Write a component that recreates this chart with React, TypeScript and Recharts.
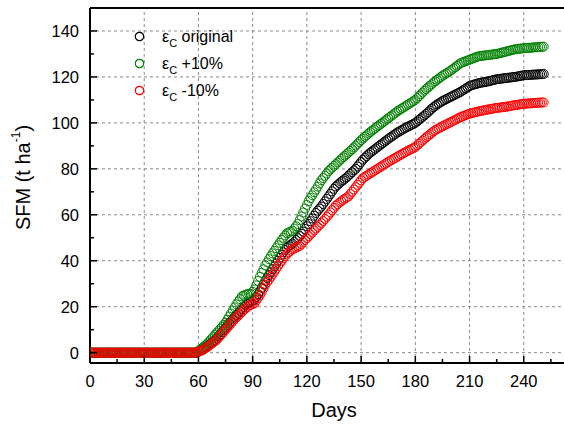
import React from 'react'
import { ScatterChart, Scatter, XAxis, YAxis, ReferenceLine, Legend, Label } from 'recharts'

const FONT = '"Liberation Sans", Arial, sans-serif'

// SFM (t ha-1) per day, day 0 .. 251
const original = [
  0, 0, 0, 0, 0, 0, 0, 0, 0, 0, 0, 0, 0, 0, 0, 0, 0, 0, 0, 0,
  0, 0, 0, 0, 0, 0, 0, 0, 0, 0, 0, 0, 0, 0, 0, 0, 0, 0, 0, 0,
  0, 0, 0, 0, 0, 0, 0, 0, 0, 0, 0, 0, 0, 0, 0, 0, 0, 0, 0, 0,
  0.5, 0.9, 1.3, 1.8, 2.3, 2.9, 3.5, 4.2, 4.8, 5.5, 6.2, 7.1, 8.0, 9.0, 9.9, 10.8, 11.8, 12.7, 13.6, 14.6,
  15.5, 16.4, 17.2, 18.1, 18.9, 19.8, 20.6, 21.2, 21.9, 22.2, 22.6, 23.0, 24.2, 25.4, 26.7, 28.2, 29.7, 31.2, 32.5, 33.8,
  35.0, 36.3, 37.5, 38.8, 40.0, 41.3, 42.6, 43.7, 44.7, 45.6, 46.3, 46.9, 47.5, 48.2, 49.0, 49.8, 50.7, 51.7, 52.7, 53.8,
  55.0, 56.0, 57.2, 58.4, 59.6, 60.8, 61.8, 62.7, 63.6, 64.7, 65.8, 66.9, 68.0, 69.1, 70.2, 71.3, 72.3, 73.0, 73.7, 74.4,
  75.0, 75.6, 76.3, 77.0, 77.8, 78.5, 79.3, 80.0, 81.0, 82.0, 83.0, 84.0, 84.8, 85.5, 86.3, 87.0, 87.6, 88.2, 88.8, 89.4,
  90.0, 90.6, 91.2, 91.8, 92.4, 93.0, 93.6, 94.1, 94.7, 95.2, 95.8, 96.2, 96.7, 97.1, 97.6, 98.0, 98.4, 98.8, 99.2, 99.6,
  100.0, 100.6, 101.3, 101.9, 102.6, 103.2, 103.9, 104.6, 105.4, 106.1, 106.8, 107.4, 108.0, 108.5, 109.0, 109.5, 109.9, 110.3, 110.7, 111.1,
  111.5, 111.9, 112.3, 112.7, 113.1, 113.5, 114.0, 114.5, 115.0, 115.5, 116.0, 116.3, 116.6, 116.8, 117.0, 117.3, 117.4, 117.6, 117.7, 117.9,
  118.0, 118.2, 118.4, 118.6, 118.8, 119.0, 119.1, 119.2, 119.3, 119.4, 119.5, 119.6, 119.7, 119.8, 119.9, 120.0, 120.1, 120.3, 120.4, 120.6,
  120.7, 120.8, 120.8, 120.9, 120.9, 121.0, 121.0, 121.1, 121.1, 121.2, 121.2, 121.3,
]

const plus10 = [
  0, 0, 0, 0, 0, 0, 0, 0, 0, 0, 0, 0, 0, 0, 0, 0, 0, 0, 0, 0,
  0, 0, 0, 0, 0, 0, 0, 0, 0, 0, 0, 0, 0, 0, 0, 0, 0, 0, 0, 0,
  0, 0, 0, 0, 0, 0, 0, 0, 0, 0, 0, 0, 0, 0, 0, 0, 0, 0, 0, 0,
  0.8, 1.4, 2.0, 2.7, 3.3, 4.0, 4.9, 5.8, 6.7, 7.6, 8.5, 9.4, 10.3, 11.2, 12.1, 13.0, 14.3, 15.7, 17.0, 18.3,
  19.7, 21.0, 22.2, 23.3, 24.5, 24.8, 25.2, 25.5, 25.5, 25.5, 26.5, 27.5, 29.3, 31.2, 33.0, 34.7, 36.3, 38.0, 39.3, 40.7,
  42.0, 43.2, 44.3, 45.5, 46.7, 47.8, 49.0, 50.0, 51.0, 52.0, 52.3, 52.7, 53.0, 54.0, 55.0, 56.0, 57.7, 59.3, 61.0, 62.7,
  64.3, 66.0, 67.3, 68.5, 69.8, 71.0, 72.3, 73.7, 75.0, 76.0, 77.0, 78.0, 79.0, 79.8, 80.5, 81.3, 82.0, 82.8, 83.5, 84.3,
  85.0, 85.7, 86.4, 87.1, 87.8, 88.5, 89.3, 90.1, 90.9, 91.7, 92.5, 93.2, 93.9, 94.6, 95.3, 96.0, 96.6, 97.2, 97.8, 98.4,
  99.0, 99.6, 100.2, 100.8, 101.4, 102.0, 102.6, 103.2, 103.8, 104.4, 105.0, 105.5, 106.0, 106.5, 107.0, 107.5, 108.0, 108.5, 109.0, 109.5,
  110.0, 110.8, 111.6, 112.4, 113.2, 114.0, 114.7, 115.4, 116.1, 116.8, 117.5, 118.1, 118.7, 119.3, 119.9, 120.5, 121.0, 121.5, 122.0, 122.5,
  123.0, 123.6, 124.2, 124.8, 125.4, 126.0, 126.3, 126.6, 126.9, 127.2, 127.5, 127.8, 128.1, 128.4, 128.7, 129.0, 129.1, 129.2, 129.3, 129.4,
  129.5, 129.6, 129.7, 129.8, 129.9, 130.0, 130.2, 130.4, 130.6, 130.8, 131.0, 131.2, 131.4, 131.6, 131.8, 132.0, 132.1, 132.2, 132.3, 132.4,
  132.5, 132.6, 132.6, 132.7, 132.7, 132.8, 132.9, 132.9, 133.0, 133.1, 133.1, 133.2,
]

const minus10 = [
  0, 0, 0, 0, 0, 0, 0, 0, 0, 0, 0, 0, 0, 0, 0, 0, 0, 0, 0, 0,
  0, 0, 0, 0, 0, 0, 0, 0, 0, 0, 0, 0, 0, 0, 0, 0, 0, 0, 0, 0,
  0, 0, 0, 0, 0, 0, 0, 0, 0, 0, 0, 0, 0, 0, 0, 0, 0, 0, 0, 0,
  0.4, 0.7, 1.0, 1.5, 2.0, 2.5, 3.1, 3.7, 4.3, 4.9, 5.5, 6.4, 7.3, 8.2, 9.1, 10.0, 10.9, 11.8, 12.7, 13.6,
  14.5, 15.3, 16.1, 16.9, 17.7, 18.5, 19.2, 19.8, 20.5, 20.8, 21.2, 21.5, 22.7, 23.8, 25.0, 26.5, 28.0, 29.5, 30.7, 31.8,
  33.0, 34.2, 35.3, 36.5, 37.7, 38.8, 40.0, 41.0, 42.0, 43.0, 43.7, 44.3, 45.0, 45.4, 45.8, 46.1, 46.5, 47.3, 48.2, 49.0,
  49.8, 50.7, 51.5, 52.3, 53.2, 54.0, 54.8, 55.6, 56.4, 57.3, 58.2, 59.1, 60.0, 61.0, 62.0, 63.0, 64.0, 64.6, 65.3, 65.9,
  66.5, 67.0, 67.5, 68.0, 69.0, 70.0, 71.0, 72.0, 73.0, 74.0, 75.0, 76.0, 76.5, 77.0, 77.5, 78.0, 78.5, 79.0, 79.5, 80.0,
  80.5, 81.0, 81.5, 82.0, 82.5, 83.0, 83.5, 83.9, 84.4, 84.8, 85.3, 85.7, 86.2, 86.6, 87.1, 87.5, 87.9, 88.3, 88.7, 89.1,
  89.5, 90.2, 90.9, 91.6, 92.3, 93.0, 93.7, 94.3, 95.0, 95.6, 96.3, 96.8, 97.3, 97.7, 98.1, 98.5, 98.9, 99.3, 99.7, 100.1,
  100.5, 100.9, 101.3, 101.7, 102.1, 102.5, 102.8, 103.1, 103.4, 103.7, 104.0, 104.2, 104.4, 104.6, 104.8, 105.0, 105.2, 105.3, 105.5, 105.6,
  105.8, 105.9, 106.1, 106.2, 106.4, 106.5, 106.6, 106.7, 106.8, 106.9, 107.0, 107.1, 107.3, 107.4, 107.6, 107.7, 107.8, 107.9, 108.1, 108.2,
  108.3, 108.4, 108.4, 108.5, 108.5, 108.6, 108.7, 108.7, 108.8, 108.8, 108.9, 108.9,
]

const seriesNames = ['original', '+10%', '-10%']
const seriesColors = ['#000000', '#008000', '#ff0000']
const seriesValues = [original, plus10, minus10]

const xTicks = [0, 15, 30, 45, 60, 75, 90, 105, 120, 135, 150, 165, 180, 195, 210, 225, 240, 255]
const yTicks = [0, 10, 20, 30, 40, 50, 60, 70, 80, 90, 100, 110, 120, 130, 140, 150]
const xGrid = [30, 60, 90, 120, 150, 180, 210, 240]
const yGrid = [0, 20, 40, 60, 80, 100, 120, 140]

const toPoints = (vals: number[]) => vals.map((v, i) => ({ day: i, sfm: v }))

const XTick = ({ x, y, payload }: any) => {
  const major = payload.value % 30 === 0
  return (
    <g>
      <line x1={x} x2={x} y1={y} y2={y - (major ? 7 : 4)} stroke="#000" strokeWidth={1.5} />
      {major && (
        <text x={x} y={y + 24} textAnchor="middle" fontSize={16.5} fontFamily={FONT} fill="#000">
          {payload.value}
        </text>
      )}
    </g>
  )
}

const YTick = ({ x, y, payload }: any) => {
  const major = payload.value % 20 === 0
  return (
    <g>
      <line x1={x} x2={x + (major ? 7 : 4)} y1={y} y2={y} stroke="#000" strokeWidth={1.5} />
      {major && (
        <text x={x - 11} y={y + 6} textAnchor="end" fontSize={16.5} fontFamily={FONT} fill="#000">
          {payload.value}
        </text>
      )}
    </g>
  )
}

const renderLegend = () => (
  <div style={{ fontFamily: FONT, fontSize: 16, color: '#000' }}>
    {seriesNames.map((name, i) => (
      <div key={name} style={{ display: 'flex', alignItems: 'center', height: 27 }}>
        <svg width={11} height={11}>
          <circle cx={5.5} cy={5.5} r={4.2} fill="none" stroke={seriesColors[i]} strokeWidth={1.2} />
        </svg>
        <span style={{ marginLeft: 17, whiteSpace: 'nowrap' }}>
          ε<span style={{ fontSize: 11, position: 'relative', top: 5 }}>C</span> {name}
        </span>
      </div>
    ))}
  </div>
)

export default function App() {
  return (
    <div style={{ position: 'absolute', left: 0, top: 0, width: 564, height: 424, overflow: 'hidden', background: '#fff' }}>
      <ScatterChart width={578} height={424} margin={{ top: 8, right: 0, bottom: 0, left: 0 }}>
        <XAxis
          type="number"
          dataKey="day"
          domain={[0, 270]}
          ticks={xTicks}
          interval={0}
          height={61}
          tickSize={0}
          tickMargin={0}
          tickLine={false}
          tick={<XTick />}
          axisLine={{ stroke: '#000', strokeWidth: 2 }}
          allowDataOverflow
        >
          <Label
            content={({ viewBox }: any) => (
              <text x={viewBox.x + viewBox.width / 2} y={viewBox.y + 54} textAnchor="middle" fontSize={20} fontFamily={FONT} fill="#000">
                Days
              </text>
            )}
          />
        </XAxis>
        <YAxis
          type="number"
          dataKey="sfm"
          domain={[-4.5, 150]}
          ticks={yTicks}
          interval={0}
          width={90}
          tickSize={0}
          tickMargin={0}
          tickLine={false}
          tick={<YTick />}
          axisLine={{ stroke: '#000', strokeWidth: 2 }}
          allowDataOverflow
        >
          <Label
            content={({ viewBox }: any) => {
              const cx = viewBox.x + 23
              const cy = viewBox.y + viewBox.height / 2 - 8
              return (
                <text transform={`rotate(-90 ${cx} ${cy})`} x={cx} y={cy} textAnchor="middle" dominantBaseline="central" fontSize={20} fontFamily={FONT} fill="#000">
                  SFM (t ha<tspan dy={-7} fontSize={12}>-1</tspan><tspan dy={7}>)</tspan>
                </text>
              )
            }}
          />
        </YAxis>
        {xGrid.map((v) => (
          <ReferenceLine key={'x' + v} x={v} stroke="#8a8a8a" strokeDasharray="3 3" strokeWidth={1} />
        ))}
        {yGrid.map((v) => (
          <ReferenceLine key={'y' + v} y={v} stroke="#8a8a8a" strokeDasharray="3 3" strokeWidth={1} />
        ))}
        <ReferenceLine y={150} stroke="#000" strokeWidth={2} />
        {seriesValues.map((vals, i) => (
          <Scatter
            key={seriesNames[i]}
            name={seriesNames[i]}
            data={toPoints(vals)}
            isAnimationActive={false}
            shape={(p: any) => <circle cx={p.cx} cy={p.cy} r={4.5} fill="none" stroke={seriesColors[i]} strokeWidth={1} />}
          />
        ))}
        <Legend
          layout="horizontal"
          verticalAlign="middle"
          align="center"
          content={renderLegend}
          wrapperStyle={{ left: 134, top: 23, width: 'auto', height: 'auto' }}
        />
      </ScatterChart>
    </div>
  )
}
